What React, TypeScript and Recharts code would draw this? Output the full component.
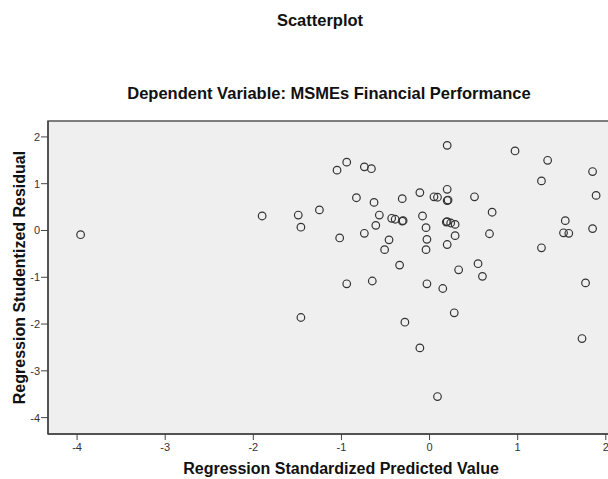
import { ScatterChart, Scatter, XAxis, YAxis, ReferenceArea, Label } from 'recharts'

// Standardized predicted values (x) and studentized residuals (y)
const predicted = [
  0.2, 0.97, 1.34, 1.85, 1.27, 1.89, -1.05, -0.94, -0.74, -0.66,
  0.2, 0.2, 0.21, -0.11, 0.05, 0.09, 0.51, -0.83, -0.63, -0.31,
  0.71, -1.49, -1.25, -1.46, -0.57, -0.61, -0.43, -0.39, -0.31, -0.3,
  -0.08, 0.19, 0.2, 0.24, 0.29, -0.04, 1.54, 1.52, 1.58, 1.85,
  -1.02, -0.74, -0.46, -0.51, -0.03, -0.04, 0.29, 0.2, 0.68, 1.27,
  -0.34, 0.33, 0.55, 0.6, -0.94, -0.65, -0.03, 0.15, 1.77, -1.46,
  -0.28, 0.28, 1.73, -0.11, 0.09, -3.96, -1.9,
]
const residual = [
  1.82, 1.7, 1.5, 1.26, 1.06, 0.75, 1.29, 1.46, 1.36, 1.32,
  0.88, 0.64, 0.65, 0.81, 0.72, 0.71, 0.72, 0.7, 0.6, 0.68,
  0.39, 0.33, 0.44, 0.07, 0.33, 0.11, 0.26, 0.24, 0.2, 0.21,
  0.31, 0.18, 0.19, 0.16, 0.13, 0.06, 0.21, -0.05, -0.06, 0.04,
  -0.16, -0.06, -0.2, -0.41, -0.19, -0.41, -0.11, -0.3, -0.07, -0.37,
  -0.74, -0.84, -0.71, -0.98, -1.14, -1.08, -1.14, -1.24, -1.12, -1.86,
  -1.96, -1.76, -2.31, -2.51, -3.55, -0.09, 0.31,
]
const xTicks = [-4, -3, -2, -1, 0, 1, 2]
const yTicks = [-4, -3, -2, -1, 0, 1, 2]

const points = predicted.map((x, i) => ({ x, y: residual[i] }))

const font = '"Liberation Sans", Arial, sans-serif'

function Ring({ cx, cy }: any) {
  return <circle cx={cx} cy={cy} r={3.8} fill="none" stroke="#333" strokeWidth={1.2} />
}

export default function App() {
  return (
    <div
      style={{
        position: 'fixed', left: 0, top: 0, width: 608, height: 479,
        overflow: 'hidden', background: '#fff', fontFamily: font,
      }}
    >
      <div style={{ position: 'absolute', left: 220, width: 200, top: 11, textAlign: 'center', fontSize: 16.5, fontWeight: 'bold', color: '#111' }}>
        Scatterplot
      </div>
      <div style={{ position: 'absolute', left: 29, width: 600, top: 84, textAlign: 'center', fontSize: 16.5, fontWeight: 'bold', color: '#111' }}>
        Dependent Variable: MSMEs Financial Performance
      </div>
      <ScatterChart width={660} height={479} margin={{ top: 121, right: 26, left: 0, bottom: 0 }}>
        <ReferenceArea x1={-4.33} x2={2.32} y1={-4.35} y2={2.34} fill="#efefef" fillOpacity={1} stroke="#555" strokeWidth={1.5} />
        <XAxis
          type="number"
          dataKey="x"
          domain={[-4.33, 2.32]}
          ticks={xTicks}
          height={45}
          tickSize={6}
          tickMargin={3}
          tick={{ fontSize: 11, fill: '#333', fontFamily: font }}
          axisLine={{ stroke: '#444', strokeWidth: 1.5 }}
          tickLine={{ stroke: '#444' }}
        >
          <Label
            value="Regression Standardized Predicted Value"
            position="insideBottom"
            offset={5}
            style={{ fontSize: 16, fontWeight: 'bold', fill: '#111', fontFamily: font }}
          />
        </XAxis>
        <YAxis
          type="number"
          dataKey="y"
          domain={[-4.35, 2.34]}
          ticks={yTicks}
          width={48}
          tickSize={7}
          tickMargin={1}
          tick={{ fontSize: 11, fill: '#333', fontFamily: font }}
          axisLine={{ stroke: '#444', strokeWidth: 1.5 }}
          tickLine={{ stroke: '#444' }}
        >
          <Label
            value="Regression Studentized Residual"
            angle={-90}
            position="insideLeft"
            offset={19}
            style={{ fontSize: 16, fontWeight: 'bold', fill: '#111', fontFamily: font, textAnchor: 'middle' }}
          />
        </YAxis>
        <Scatter data={points} shape={<Ring />} isAnimationActive={false} />
      </ScatterChart>
    </div>
  )
}
